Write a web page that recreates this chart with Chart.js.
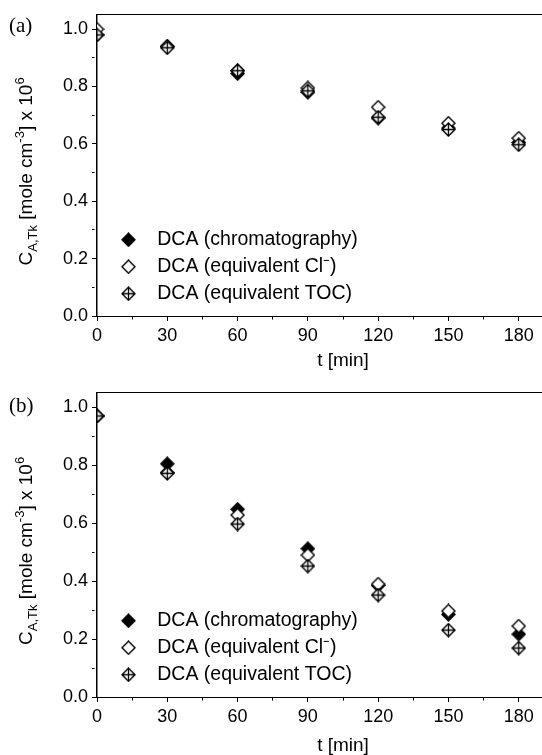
<!DOCTYPE html>
<html>
<head>
<meta charset="utf-8" />
<title>DCA concentration</title>
<style>
  body { margin: 0; background: #fff; }
  .frame { position: relative; width: 542px; height: 755px; overflow: hidden; }
  .panel { position: absolute; left: 0; width: 600px; }
  #panelA { top: 0; height: 378px; }
  #panelB { top: 378px; height: 381px; }
</style>
</head>
<body>
<div class="frame">
  <div class="panel" id="panelA"><canvas id="chartA"></canvas></div>
  <div class="panel" id="panelB"><canvas id="chartB"></canvas></div>
</div>

<script src="https://cdn.jsdelivr.net/npm/chart.js"></script>
<script>
// sampling times [min]
const times = [0, 30, 60, 90, 120, 150, 180];

// (a) concentrations, mole cm-3 x 10^6
const chromA = [0.98, 0.94, 0.845, 0.78, 0.69, 0.655, 0.605];
const chlorA = [1.00, 0.94, 0.855, 0.795, 0.728, 0.672, 0.62];
const tocA   = [0.98, 0.935, 0.855, 0.785, 0.693, 0.65, 0.597];

// (b)
const chromB = [0.97, 0.805, 0.648, 0.512, 0.385, 0.285, 0.217];
const chlorB = [0.97, 0.775, 0.628, 0.49, 0.39, 0.297, 0.245];
const tocB   = [0.97, 0.772, 0.597, 0.452, 0.352, 0.231, 0.169];

const seriesNames = ['DCA (chromatography)', 'DCA (equivalent Cl\u207B)', 'DCA (equivalent TOC)'];
const xTickLabels = [0, 30, 60, 90, 120, 150, 180];
const yTickLabels = [0.0, 0.2, 0.4, 0.6, 0.8, 1.0];

const SANS = '"Liberation Sans", Arial, sans-serif';

// diamond markers drawn once into small canvases
function makeMarker(kind) {
  const c = document.createElement('canvas');
  c.width = 15; c.height = 15;
  const g = c.getContext('2d');
  const r = 6.5, cx = 7.5, cy = 7.5;
  g.beginPath();
  g.moveTo(cx, cy - r);
  g.lineTo(cx + r, cy);
  g.lineTo(cx, cy + r);
  g.lineTo(cx - r, cy);
  g.closePath();
  g.fillStyle = kind === 'filled' ? '#000' : '#fff';
  g.fill();
  g.lineWidth = 1.4;
  g.strokeStyle = '#000';
  g.stroke();
  if (kind === 'cross') {
    g.beginPath();
    g.moveTo(cx, cy - r); g.lineTo(cx, cy + r);
    g.moveTo(cx - r, cy); g.lineTo(cx + r, cy);
    g.lineWidth = 1.3;
    g.stroke();
  }
  return c;
}
const markers = [makeMarker('filled'), makeMarker('open'), makeMarker('cross')];

// minor ticks: same tick line, but dashed so only the first bit shows
const minorDash = [2.5, 20];
const xMinor = v => Math.round(v) % 30 !== 0;
const yMinor = v => Math.round(v * 10) % 2 !== 0;

// panel letter, y title with sub/superscripts, legend placed in the lower left corner
const panelText = {
  id: 'panelText',
  afterLayout(chart) {
    const lg = chart.legend, area = chart.chartArea;
    if (!lg) return;
    lg.left = area.left + 5;
    lg.top = area.top;
    lg.bottom = area.bottom - 5;
  },
  afterDraw(chart, args, opts) {
    const ctx = chart.ctx;
    const area = chart.chartArea;
    ctx.save();
    ctx.fillStyle = '#000';
    ctx.textBaseline = 'alphabetic';
    ctx.font = '21px "Liberation Serif", serif';
    ctx.fillText(opts.letter, 9, opts.letterY);

    const parts = [
      ['C', 0], ['A,Tk', 1], [' [mole cm', 0], ['-3', -1], ['] x 10', 0], ['6', -1]
    ];
    const big = '19px ' + SANS, small = '13px ' + SANS;
    let total = 0;
    parts.forEach(p => { ctx.font = p[1] ? small : big; total += ctx.measureText(p[0]).width; });
    ctx.translate(32, (area.top + area.bottom) / 2 + 6);
    ctx.rotate(-Math.PI / 2);
    let x = -total / 2;
    parts.forEach(p => {
      ctx.font = p[1] ? small : big;
      const dy = p[1] === 1 ? 5 : (p[1] === -1 ? -8 : 0);
      ctx.fillText(p[0], x, dy);
      x += ctx.measureText(p[0]).width;
    });
    ctx.restore();
  }
};

function pts(values) {
  return times.map((t, i) => ({ x: t, y: values[i] }));
}

function makePanel(id, letter, letterY, series, lay) {
  const datasets = series.map((vals, i) => ({
    label: seriesNames[i],
    data: pts(vals),
    pointStyle: markers[i],
    pointRadius: 6.5,
    pointHoverRadius: 6.5,
    showLine: false,
    clip: 0,
    order: 3 - i
  }));

  return new Chart(document.getElementById(id), {
    type: 'scatter',
    data: { datasets: datasets },
    plugins: [panelText],
    options: {
      responsive: true,
      maintainAspectRatio: false,
      animation: false,
      devicePixelRatio: 1,
      layout: { padding: { top: lay.top, left: 0, right: 11, bottom: 0 } },
      plugins: {
        tooltip: { enabled: false },
        panelText: { letter: letter, letterY: letterY },
        legend: {
          position: 'chartArea',
          align: 'end',
          labels: {
            usePointStyle: true,
            pointStyleWidth: 38,
            boxHeight: 10,
            padding: 7.5,
            color: '#000',
            font: { family: SANS, size: 19.5 },
            sort: (a, b) => a.datasetIndex - b.datasetIndex
          }
        }
      },
      scales: {
        x: {
          type: 'linear',
          position: 'bottom',
          min: 0,
          max: 210,
          border: { color: '#000', width: 1 },
          grid: {
            drawOnChartArea: false,
            color: '#000',
            tickLength: 5,
            tickBorderDash: c => xMinor(c.tick.value) ? minorDash : []
          },
          ticks: {
            stepSize: 15,
            autoSkip: false,
            maxRotation: 0,
            padding: 4,
            color: '#000',
            font: { family: SANS, size: 18 },
            callback: v => xTickLabels.includes(v) ? String(v) : ''
          },
          title: {
            display: true,
            text: 't [min]',
            color: '#000',
            font: { family: SANS, size: 19 },
            padding: { top: 4, bottom: lay.titleBottom }
          },
          afterFit: s => { s.height = lay.xHeight; }
        },
        xTop: {
          type: 'linear',
          position: 'top',
          min: 0,
          max: 210,
          border: { color: '#000', width: 1 },
          grid: { drawOnChartArea: false, drawTicks: false },
          ticks: { display: false },
          afterFit: s => { s.height = 0; }
        },
        y: {
          min: 0,
          max: 1.05,
          border: { color: '#000', width: 1.5 },
          grid: {
            drawOnChartArea: false,
            color: '#000',
            tickLength: 5,
            tickBorderDash: c => yMinor(c.tick.value) ? minorDash : []
          },
          ticks: {
            stepSize: 0.1,
            includeBounds: false,
            padding: 4,
            color: '#000',
            font: { family: SANS, size: 18 },
            callback: v => {
              const hit = yTickLabels.find(t => Math.abs(t - v) < 1e-6);
              return hit === undefined ? '' : hit.toFixed(1);
            }
          },
          afterFit: s => { s.width = 97; }
        }
      }
    }
  });
}

makePanel('chartA', '(a)', 32, [chromA, chlorA, tocA], { top: 13, xHeight: 62, titleBottom: 6 });
makePanel('chartB', '(b)', 34, [chromB, chlorB, tocB], { top: 14, xHeight: 62, titleBottom: 2 });
</script>
</body>
</html>
